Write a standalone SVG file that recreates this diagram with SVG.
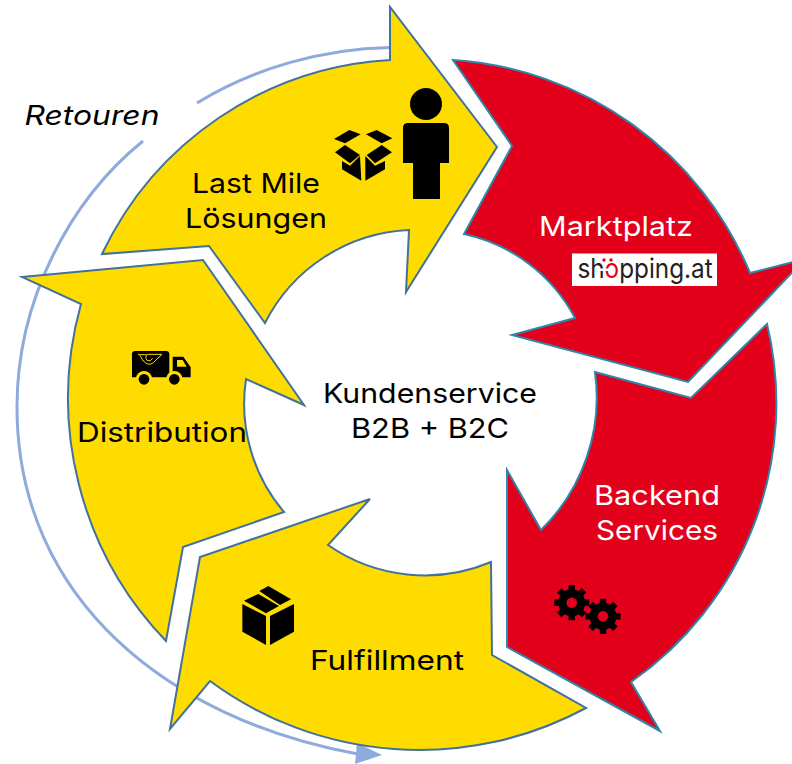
<svg xmlns="http://www.w3.org/2000/svg" xmlns:xlink="http://www.w3.org/1999/xlink" width="792" height="764" viewBox="0 0 792 764">
<style>
.y{fill:#ffdc00;stroke:#41719c;stroke-width:2;stroke-linejoin:miter}
.r{fill:#e2001a;stroke:#2e86ab;stroke-width:2;stroke-linejoin:miter}
text{font-family:"Inter","Liberation Sans",sans-serif;font-size:27.5px;fill:#000;text-anchor:middle}
.w{fill:#fff}
.k{fill:#000}
</style>
<defs>
<g id="gear">
<circle r="13.5" fill="#000"/>
<rect x="-3.2" y="-17.5" width="6.4" height="35" fill="#000"/>
<rect x="-3.2" y="-17.5" width="6.4" height="35" fill="#000" transform="rotate(45)"/>
<rect x="-3.2" y="-17.5" width="6.4" height="35" fill="#000" transform="rotate(90)"/>
<rect x="-3.2" y="-17.5" width="6.4" height="35" fill="#000" transform="rotate(135)"/>
<circle r="5.3" fill="#e2001a"/>
</g>
</defs>
<rect width="792" height="764" fill="#fff"/>
<g id="connectors" fill="none">
<path d="M390 47.5 A372 351 0 0 0 197 103" stroke="#8faadc" stroke-width="3"/>
<path d="M143 141 C70 200 17 300 17 407 C17 600 170 720 358 754" stroke="#8faadc" stroke-width="3"/>
<polygon points="382,755 357,743 355,764" fill="#8faadc"/>
</g>
<g id="retouren"><text x="92" y="125" font-style="italic" textLength="135" lengthAdjust="spacingAndGlyphs">Retouren</text></g>
<g id="distribution">
<path class="y" d="M22 277 L203 260 L304 405 L246 379 A167 167 0 0 0 284 512 L183 547 L166 641 A350 350 0 0 1 81 304 Z"/>
<g transform="translate(120 340) scale(.3333)">
<path class="k" d="M46 33H138Q148 33 148 43V112H36V43Q36 33 46 33Z"/>
<polygon class="k" points="158,50 190,50 212,82 212,112 158,112"/>
<polygon points="171,60 188,60 200,80 171,80" fill="#ffdc00"/>
<circle cx="72" cy="118" r="25" fill="#ffdc00"/><circle cx="163" cy="118" r="25" fill="#ffdc00"/>
<circle cx="72" cy="118" r="16" class="k"/><circle cx="163" cy="118" r="16" class="k"/>
<path d="M54 44H80M60 46L70 64M70 62Q85 80 100 68L126 43H84Q72 50 82 62Q92 66 98 55" fill="none" stroke="#ffdc00" stroke-width="3"/>
</g>
<text x="162" y="442" textLength="170" lengthAdjust="spacingAndGlyphs">Distribution</text>
</g>
<g id="fulfillment">
<path class="y" d="M370 499 L328 545 A170 170 0 0 0 491 562 L492 655 L586 708 A352 352 0 0 1 210 681 L170 729 L200 557 Z"/>
<g transform="translate(230 580) scale(.3333)" class="k">
<polygon points="42,62 85,42 147,78 108,100"/><polygon points="88,33 115,18 183,58 150,75"/>
<polygon points="37,72 108,108 108,195 37,155"/><polygon points="120,108 192,72 192,155 120,195"/>
</g>
<text x="387" y="670" textLength="154" lengthAdjust="spacingAndGlyphs">Fulfillment</text>
</g>
<g id="backend">
<path class="r" d="M595 372 L691 398 L767 324 A340 340 0 0 1 631 682 L660 731 L507 647 L507 470 L541 530 A186 186 0 0 0 595 372 Z"/>
<use xlink:href="#gear" href="#gear" x="571.7" y="602.7"/>
<use xlink:href="#gear" href="#gear" x="603" y="616.3"/>
<text class="w" x="657" y="505" textLength="126" lengthAdjust="spacingAndGlyphs">Backend</text>
<text class="w" x="657" y="540" textLength="122" lengthAdjust="spacingAndGlyphs">Services</text>
</g>
<g id="marktplatz">
<path class="r" d="M453 60 L512 146 L464 234 A165 165 0 0 1 575 318 L512 335 L688 382 L805 259 L750 273 A346 346 0 0 0 453 60 Z"/>
<text class="w" x="616" y="236" textLength="154" lengthAdjust="spacingAndGlyphs">Marktplatz</text>
<g id="logo">
<rect x="572" y="253.5" width="145" height="32.5" fill="#fff"/>
<text transform="translate(645 278) scale(.9 1)" x="0" y="0" style="font-size:27px;fill:#222">sh<tspan style="fill:#e2001a">o</tspan>pping.at</text>
<rect x="600" y="268.5" width="15" height="2.5" fill="#fff"/>
<circle cx="604" cy="260" r="1.7" fill="#e2001a"/><circle cx="611" cy="260" r="1.7" fill="#e2001a"/>
</g>
</g>
<g id="lastmile">
<path class="y" d="M102 254 A340 340 0 0 1 390 60 L390 7 L497 147 L406 292 L409 230 A170 170 0 0 0 265 323 L209 246 Z"/>
<circle cx="426" cy="104" r="16" class="k"/>
<path class="k" d="M403 163V128Q403 123 408 123H444Q449 123 449 128V163H440V199H413V163Z"/>
<g transform="translate(320 80) scale(.3333)" class="k">
<polygon points="42,177 88,150 122,163 75,190"/><polygon points="138,163 170,150 217,175 185,190"/>
<polygon points="45,217 75,195 120,225 90,250"/><polygon points="140,225 185,195 216,217 165,250"/>
<polygon points="66,243 90,257 120,228 124,302 66,268"/><polygon points="136,302 136,228 165,257 195,243 195,268"/>
</g>
<text x="256" y="193" textLength="128" lengthAdjust="spacingAndGlyphs">Last Mile</text>
<text x="256" y="228" textLength="142" lengthAdjust="spacingAndGlyphs">Lösungen</text>
</g>
<g id="kundenservice">
<text x="430" y="403" textLength="214" lengthAdjust="spacingAndGlyphs">Kundenservice</text>
<text x="430" y="438" textLength="158" lengthAdjust="spacingAndGlyphs">B2B + B2C</text>
</g>
</svg>
